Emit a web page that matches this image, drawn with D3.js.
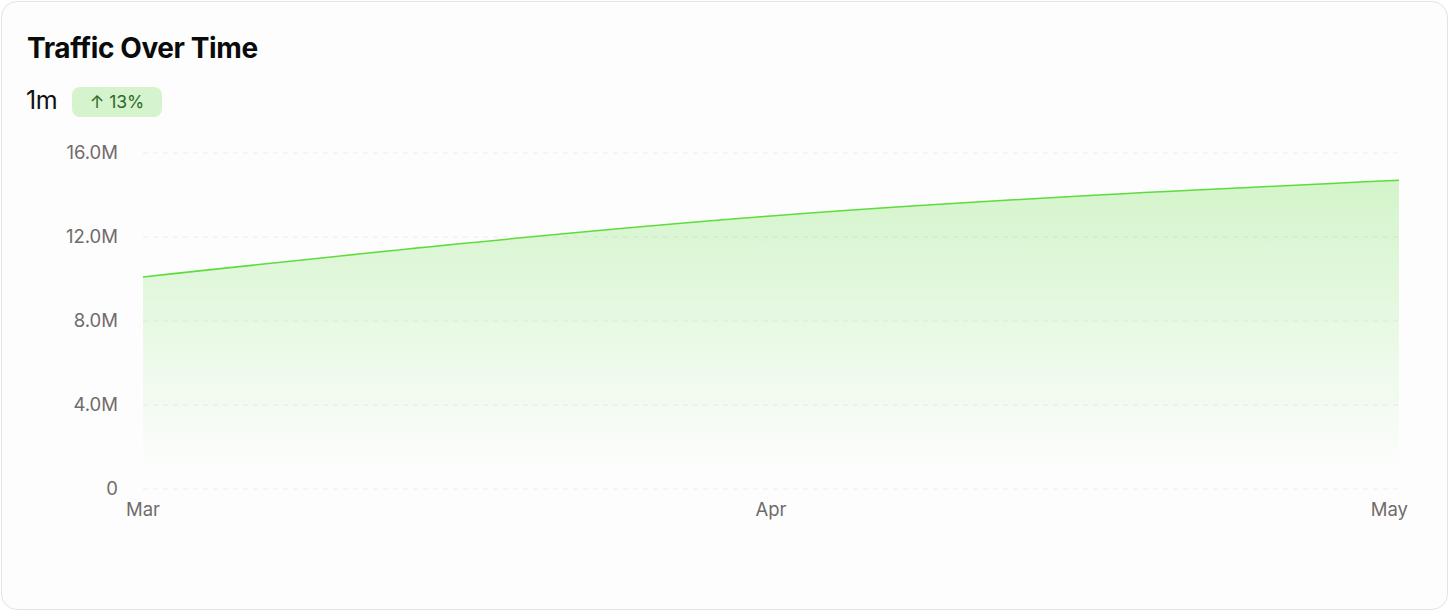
<!DOCTYPE html>
<html>
<head>
<meta charset="utf-8">
<script src="https://cdn.jsdelivr.net/npm/d3@7"></script>
<style>
  html, body { margin: 0; padding: 0; background: #ffffff; }
  body { width: 1454px; height: 611px; overflow: hidden; font-family: Inter, "Noto Sans", sans-serif; }
  .card {
    position: absolute; left: 1px; top: 1px; width: 1447px; height: 609px;
    border: 1px solid #e4e4e4; border-radius: 16px; background: #fdfdfd; box-sizing: border-box;
  }
  .title { position: absolute; left: 27px; top: 31px; font-size: 28px; font-weight: 700; color: #0b0b0b; letter-spacing: -0.4px; }
  .sub { position: absolute; left: 26px; top: 85px; font-size: 25px; color: #111; letter-spacing: -0.5px; }
  .badge {
    position: absolute; left: 72px; top: 87px; height: 30px; width: 90px; text-align: center;
    background: #d5f3cd; color: #2e6a2a; border-radius: 8px; font-size: 17.5px; line-height: 30px;
  }
  svg { position: absolute; left: 0; top: 0; }
</style>
</head>
<body>
<div class="card"></div>
<div class="title">Traffic Over Time</div>
<div class="sub">1m</div>
<div class="badge">↑ 13%</div>
<div id="chart"></div>
<script>
const months = ["Mar", "Apr", "May"];
const traffic = [10.1e6, 13.0e6, 14.7e6];
const yTicks = [0, 4e6, 8e6, 12e6, 16e6];

const width = 1454, height = 611;
const margin = { left: 143, right: 55, top: 153, bottom: 122 };

const svg = d3.select("#chart").append("svg")
    .attr("width", width)
    .attr("height", height);

const x = d3.scalePoint()
    .domain(months)
    .range([margin.left, width - margin.right]);

const y = d3.scaleLinear()
    .domain([0, 16e6])
    .range([height - margin.bottom, margin.top]);

const fmt = d => d === 0 ? "0" : (d / 1e6).toFixed(1) + "M";

// gradient for the area
const defs = svg.append("defs");
const grad = defs.append("linearGradient")
    .attr("id", "fillGrad")
    .attr("x1", 0).attr("y1", 0).attr("x2", 0).attr("y2", 1);
grad.append("stop").attr("offset", "0%").attr("stop-color", "#5ddc3c").attr("stop-opacity", 0.26);
grad.append("stop").attr("offset", "95%").attr("stop-color", "#5ddc3c").attr("stop-opacity", 0.0);

// grid
svg.append("g")
    .selectAll("line")
    .data(yTicks)
    .enter()
    .append("line")
    .attr("x1", margin.left)
    .attr("x2", width - margin.right)
    .attr("y1", d => y(d))
    .attr("y2", d => y(d))
    .attr("stroke", "#ececec")
    .attr("stroke-width", 1)
    .attr("stroke-dasharray", "5 5");

const data = months.map((m, i) => ({ m, v: traffic[i] }));

const area = d3.area()
    .x(d => x(d.m))
    .y0(y(0))
    .y1(d => y(d.v))
    .curve(d3.curveMonotoneX);

const line = d3.line()
    .x(d => x(d.m))
    .y(d => y(d.v))
    .curve(d3.curveMonotoneX);

svg.append("path")
    .datum(data)
    .attr("d", area)
    .attr("fill", "url(#fillGrad)");

svg.append("path")
    .datum(data)
    .attr("d", line)
    .attr("fill", "none")
    .attr("stroke", "#5ddc3c")
    .attr("stroke-width", 1.5);

// y axis labels
svg.append("g")
    .selectAll("text")
    .data(yTicks)
    .enter()
    .append("text")
    .attr("x", margin.left - 25)
    .attr("y", d => y(d))
    .attr("dy", "0.35em")
    .attr("text-anchor", "end")
    .attr("fill", "#716b6b")
    .attr("font-size", 18.5)
    .text(fmt);

// x axis labels
svg.append("g")
    .selectAll("text")
    .data(months)
    .enter()
    .append("text")
    .attr("x", (d, i) => i === months.length - 1 ? x(d) + 9 : x(d))
    .attr("y", y(0) + 27)
    .attr("text-anchor", (d, i) => i === months.length - 1 ? "end" : "middle")
    .attr("fill", "#716b6b")
    .attr("font-size", 18.5)
    .text(d => d);
</script>
</body>
</html>
